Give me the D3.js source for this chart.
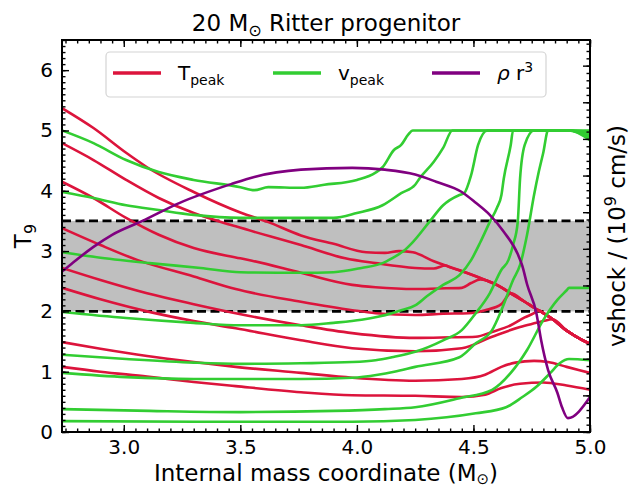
<!DOCTYPE html>
<html>
<head>
<meta charset="utf-8">
<script src="https://cdn.jsdelivr.net/npm/d3@7"></script>
<style>
  body { margin: 0; background: #fff; }
  text { font-family: "DejaVu Sans", sans-serif; fill: #000; }
</style>
</head>
<body>
<div id="chart"></div>
<script>
// Peak temperature (T9) per model, [mass, T9]
const tpeakCurves = [
  [[2.735,5.37],[2.87,5.04],[3.01,4.63],[3.1,4.39],[3.3,3.98],[3.5,3.64],[3.62,3.48],[3.76,3.26],[3.9,3.12],[4.04,2.98],[4.12,2.97],[4.18,3.0],[4.24,2.98],[4.33,2.83],[4.47,2.64],[4.55,2.52],[4.61,2.42],[4.66,2.3],[4.72,2.16],[4.76,2.06],[4.8,1.97],[4.84,1.87],[4.9,1.68],[4.95,1.56],[5.0,1.46]],
  [[2.735,4.79],[2.87,4.51],[3.01,4.18],[3.15,3.88],[3.3,3.63],[3.48,3.41],[3.76,3.1],[3.95,2.88],[4.08,2.8],[4.25,2.72],[4.33,2.71],[4.38,2.76],[4.4,2.73],[4.47,2.64],[4.55,2.52],[4.61,2.42],[4.66,2.3],[4.72,2.16],[4.76,2.06],[4.8,1.97],[4.84,1.87],[4.9,1.68],[4.95,1.56],[5.0,1.46]],
  [[2.735,4.15],[2.87,3.88],[3.01,3.55],[3.15,3.27],[3.3,3.05],[3.5,2.88],[3.55,2.84],[3.76,2.64],[3.98,2.44],[4.08,2.4],[4.25,2.37],[4.35,2.38],[4.45,2.39],[4.49,2.47],[4.53,2.53],[4.55,2.52],[4.61,2.42],[4.66,2.3],[4.72,2.16],[4.76,2.06],[4.8,1.97],[4.84,1.87],[4.9,1.68],[4.95,1.56],[5.0,1.46]],
  [[2.735,3.38],[2.9,3.1],[3.06,2.85],[3.3,2.58],[3.48,2.37],[3.76,2.16],[3.98,2.02],[4.08,1.97],[4.25,1.94],[4.37,1.96],[4.48,1.97],[4.55,2.02],[4.62,2.12],[4.66,2.3],[4.72,2.16],[4.76,2.06],[4.8,1.97],[4.84,1.87],[4.9,1.68],[4.95,1.56],[5.0,1.46]],
  [[2.735,2.72],[2.9,2.52],[3.1,2.3],[3.3,2.12],[3.48,1.97],[3.76,1.77],[3.98,1.64],[4.25,1.56],[4.4,1.57],[4.51,1.58],[4.58,1.66],[4.66,1.77],[4.72,1.9],[4.76,1.97],[4.78,2.02],[4.8,1.97],[4.84,1.87],[4.9,1.68],[4.95,1.56],[5.0,1.46]],
  [[2.735,2.39],[2.9,2.2],[3.1,2.0],[3.3,1.84],[3.48,1.72],[3.76,1.52],[3.98,1.39],[4.25,1.34],[4.45,1.39],[4.58,1.58],[4.7,1.74],[4.77,1.81],[4.8,1.84],[4.84,1.87],[4.9,1.68],[4.95,1.56],[5.0,1.46]],
  [[2.735,1.49],[2.9,1.38],[3.1,1.26],[3.3,1.16],[3.48,1.08],[3.76,0.98],[3.98,0.9],[4.25,0.85],[4.45,0.88],[4.55,0.95],[4.62,1.08],[4.68,1.15],[4.76,1.18],[4.82,1.16],[4.9,1.08],[5.0,0.98]],
  [[2.735,1.08],[2.9,1.0],[3.1,0.92],[3.3,0.83],[3.48,0.76],[3.76,0.66],[3.98,0.61],[4.25,0.6],[4.45,0.58],[4.55,0.62],[4.62,0.73],[4.7,0.8],[4.8,0.82],[4.9,0.77],[5.0,0.7]]
];

// Peak shock velocity per model (plotted on the T9 scale), [mass, v]
const vpeakCurves = [
  [[2.735,5.0],[2.87,4.79],[3.01,4.51],[3.15,4.31],[3.3,4.18],[3.5,4.06],[3.56,4.01],[3.62,4.06],[3.76,4.05],[3.86,4.1],[4.0,4.18],[4.08,4.3],[4.11,4.39],[4.16,4.68],[4.19,4.76],[4.22,4.93],[4.24,5.0],[4.91,5.0],[5.0,4.84]],
  [[2.735,3.98],[2.87,3.88],[3.01,3.76],[3.15,3.68],[3.3,3.6],[3.5,3.55],[3.9,3.55],[4.0,3.63],[4.11,3.76],[4.19,3.96],[4.25,4.1],[4.27,4.21],[4.33,4.48],[4.37,4.71],[4.41,5.0],[4.91,5.0],[5.0,4.88]],
  [[2.735,2.98],[2.9,2.89],[3.11,2.8],[3.33,2.72],[3.5,2.65],[3.76,2.64],[3.9,2.65],[4.02,2.72],[4.11,2.8],[4.15,2.88],[4.2,3.0],[4.24,3.15],[4.31,3.48],[4.37,3.76],[4.44,3.93],[4.46,3.96],[4.49,4.26],[4.52,4.76],[4.56,5.0],[4.91,5.0],[5.0,4.92]],
  [[2.735,1.99],[3.01,1.89],[3.3,1.81],[3.5,1.77],[3.76,1.77],[3.9,1.81],[4.02,1.86],[4.09,1.91],[4.15,1.97],[4.19,2.02],[4.25,2.1],[4.3,2.25],[4.37,2.44],[4.44,2.6],[4.49,2.85],[4.53,3.15],[4.57,3.48],[4.6,3.71],[4.62,3.93],[4.63,4.2],[4.66,4.76],[4.67,5.0],[4.91,5.0],[5.0,4.95]],
  [[2.735,1.28],[3.01,1.21],[3.3,1.15],[3.5,1.13],[3.76,1.14],[3.98,1.16],[4.08,1.19],[4.15,1.24],[4.25,1.33],[4.37,1.52],[4.45,1.69],[4.51,1.97],[4.57,2.3],[4.62,2.69],[4.65,2.85],[4.67,3.1],[4.69,3.48],[4.7,4.2],[4.72,4.76],[4.76,5.0],[4.91,5.0],[5.0,4.98]],
  [[2.735,0.98],[3.01,0.91],[3.3,0.88],[3.5,0.88],[3.76,0.88],[3.98,0.9],[4.09,0.95],[4.16,1.0],[4.25,1.08],[4.44,1.24],[4.51,1.47],[4.58,1.69],[4.62,2.02],[4.67,2.52],[4.7,2.77],[4.73,3.27],[4.76,3.93],[4.78,4.31],[4.8,4.64],[4.82,5.0],[4.91,5.0],[5.0,5.0]],
  [[2.735,0.38],[3.11,0.35],[3.5,0.33],[3.9,0.35],[4.12,0.38],[4.25,0.41],[4.44,0.56],[4.58,0.7],[4.66,0.98],[4.73,1.36],[4.8,1.86],[4.86,2.19],[4.9,2.35],[4.91,2.39],[5.0,2.39]],
  [[2.735,0.18],[3.5,0.17],[3.98,0.17],[4.25,0.2],[4.51,0.31],[4.64,0.41],[4.71,0.58],[4.77,0.75],[4.83,0.98],[4.87,1.14],[4.91,1.21],[5.0,1.19]]
];

// rho r^3 profile (scaled onto T9 axis), [mass, value]
const rhoR3 = [[2.735,2.66],[2.77,2.77],[2.87,3.07],[2.95,3.27],[3.08,3.5],[3.24,3.8],[3.46,4.11],[3.56,4.23],[3.76,4.35],[3.98,4.38],[4.12,4.35],[4.25,4.27],[4.34,4.15],[4.45,3.98],[4.51,3.8],[4.57,3.6],[4.63,3.32],[4.69,2.95],[4.71,2.75],[4.73,2.45],[4.77,1.97],[4.79,1.53],[4.82,1.03],[4.86,0.65],[4.88,0.41],[4.905,0.23],[5.0,0.58]];

// Shaded band and thresholds
const bandT9 = [2.0, 3.5];

const xTicks = [3.0, 3.5, 4.0, 4.5, 5.0];
const yTicks = [0, 1, 2, 3, 4, 5, 6];

const width = 629, height = 488;
const margin = { top: 40, right: 39, bottom: 56, left: 62 };
const innerW = width - margin.left - margin.right;
const innerH = height - margin.top - margin.bottom;

const colors = { t: "#dc143c", v: "#32cd32", rho: "#800080" };

const svg = d3.select("#chart").append("svg")
  .attr("width", width).attr("height", height);

const x = d3.scaleLinear().domain([2.735, 5.0]).range([0, innerW]);
const y = d3.scaleLinear().domain([0, 6.5]).range([innerH, 0]);
const yRight = d3.scaleLinear().domain([0, 10.7]).range([innerH, 0]);

const plot = svg.append("g").attr("transform", `translate(${margin.left},${margin.top})`);

svg.append("defs").append("clipPath").attr("id", "clip")
  .append("rect").attr("width", innerW).attr("height", innerH);

const body = plot.append("g").attr("clip-path", "url(#clip)");

// Grey band between the thresholds
body.append("rect")
  .attr("x", 0).attr("width", innerW)
  .attr("y", y(bandT9[1])).attr("height", y(bandT9[0]) - y(bandT9[1]))
  .attr("fill", "#bfbfbf");

bandT9.forEach((t) => {
  body.append("line")
    .attr("x1", 0).attr("x2", innerW)
    .attr("y1", y(t)).attr("y2", y(t))
    .attr("stroke", "#000").attr("stroke-width", 2.6)
    .attr("stroke-dasharray", "9,4.5");
});

const line = d3.line().x((d) => x(d[0])).y((d) => y(d[1])).curve(d3.curveMonotoneX);

body.selectAll("path.tpeak").data(tpeakCurves).join("path")
  .attr("class", "tpeak").attr("d", line)
  .attr("fill", "none").attr("stroke", colors.t).attr("stroke-width", 2.6)
  .attr("stroke-linejoin", "round");

body.selectAll("path.vpeak").data(vpeakCurves).join("path")
  .attr("class", "vpeak").attr("d", line)
  .attr("fill", "none").attr("stroke", colors.v).attr("stroke-width", 2.6)
  .attr("stroke-linejoin", "round");

body.append("path").datum(rhoR3).attr("d", line)
  .attr("fill", "none").attr("stroke", colors.rho).attr("stroke-width", 2.6)
  .attr("stroke-linejoin", "round");

// Axes: inward ticks on all four sides
const minorX = d3.range(2.75, 5.0001, 0.05).map((v) => +v.toFixed(2));
const minorY = d3.range(0, 6.5001, 0.1).map((v) => +v.toFixed(1));
const minorYR = d3.range(0, 10.7001, 0.2).map((v) => +v.toFixed(1));

function styleAxis(g) {
  g.select(".domain").remove();
  g.selectAll(".tick line").attr("stroke", "#000").attr("stroke-width", 1.4);
  g.selectAll(".tick text").attr("font-size", 20).attr("font-family", "DejaVu Sans");
}

plot.append("g").attr("transform", `translate(0,${innerH})`)
  .call(d3.axisBottom(x).tickValues(minorX).tickSize(-3.5).tickFormat("")).call(styleAxis);
plot.append("g").attr("transform", `translate(0,${innerH})`)
  .call(d3.axisBottom(x).tickValues(xTicks).tickSize(-7).tickPadding(8).tickFormat(d3.format(".1f"))).call(styleAxis);
plot.append("g")
  .call(d3.axisTop(x).tickValues(minorX).tickSize(-3.5).tickFormat("")).call(styleAxis);
plot.append("g")
  .call(d3.axisTop(x).tickValues(xTicks).tickSize(-7).tickFormat("")).call(styleAxis);

plot.append("g")
  .call(d3.axisLeft(y).tickValues(minorY).tickSize(-3.5).tickFormat("")).call(styleAxis);
plot.append("g")
  .call(d3.axisLeft(y).tickValues(yTicks).tickSize(-7).tickPadding(9).tickFormat(d3.format("d"))).call(styleAxis);

plot.append("g").attr("transform", `translate(${innerW},0)`)
  .call(d3.axisRight(yRight).tickValues(minorYR).tickSize(-3.5).tickFormat("")).call(styleAxis);
plot.append("g").attr("transform", `translate(${innerW},0)`)
  .call(d3.axisRight(yRight).ticks(10).tickSize(-7).tickFormat("")).call(styleAxis);

plot.append("rect").attr("width", innerW).attr("height", innerH)
  .attr("fill", "none").attr("stroke", "#000").attr("stroke-width", 2);

// Title and axis labels
const title = svg.append("text").attr("x", margin.left + innerW / 2).attr("y", 31)
  .attr("text-anchor", "middle").attr("font-size", 23);
title.append("tspan").text("20 M");
title.append("tspan").attr("font-size", 16).attr("dy", 5).text("⊙");
title.append("tspan").attr("dy", -5).text(" Ritter progenitor");

const xLabel = svg.append("text").attr("x", margin.left + innerW / 2).attr("y", 481)
  .attr("text-anchor", "middle").attr("font-size", 23);
xLabel.append("tspan").text("Internal mass coordinate (M");
xLabel.append("tspan").attr("font-size", 15).attr("dy", 3).text("⊙");
xLabel.append("tspan").attr("dy", -3).text(")");

const yLabel = svg.append("text")
  .attr("transform", `translate(31,${margin.top + innerH / 2}) rotate(-90)`)
  .attr("text-anchor", "middle").attr("font-size", 23);
yLabel.append("tspan").text("T");
yLabel.append("tspan").attr("font-size", 16).attr("dy", 5).text("9");

const yRLabel = svg.append("text")
  .attr("transform", `translate(625,${margin.top + innerH / 2}) rotate(-90)`)
  .attr("text-anchor", "middle").attr("font-size", 23);
yRLabel.append("tspan").text("vshock / (10");
yRLabel.append("tspan").attr("font-size", 16).attr("dy", -9).text("9");
yRLabel.append("tspan").attr("dy", 9).text(" cm/s)");

// Legend
const legendItems = [
  { color: colors.t, main: "T", sub: "peak", x: 113 },
  { color: colors.v, main: "v", sub: "peak", x: 273 },
  { color: colors.rho, main: "ρ", rest: " r", sup: "3", x: 432 }
];
const legend = svg.append("g");
legend.append("rect").attr("x", 106).attr("y", 52).attr("width", 440).attr("height", 45)
  .attr("rx", 4).attr("fill", "#fff").attr("fill-opacity", 0.8)
  .attr("stroke", "#d4d4d4").attr("stroke-width", 1.2);
legendItems.forEach((d) => {
  legend.append("line").attr("x1", d.x).attr("x2", d.x + 48).attr("y1", 73).attr("y2", 73)
    .attr("stroke", d.color).attr("stroke-width", 3.4);
  const t = legend.append("text").attr("x", d.x + 65).attr("y", 80).attr("font-size", 20);
  if (d.rest) {
    t.append("tspan").attr("font-style", "italic").text(d.main);
    t.append("tspan").text(d.rest);
  } else {
    t.append("tspan").text(d.main);
  }
  if (d.sub) t.append("tspan").attr("font-size", 14).attr("dy", 5).text(d.sub);
  if (d.sup) t.append("tspan").attr("font-size", 14).attr("dy", -8).text(d.sup);
});
</script>
</body>
</html>
